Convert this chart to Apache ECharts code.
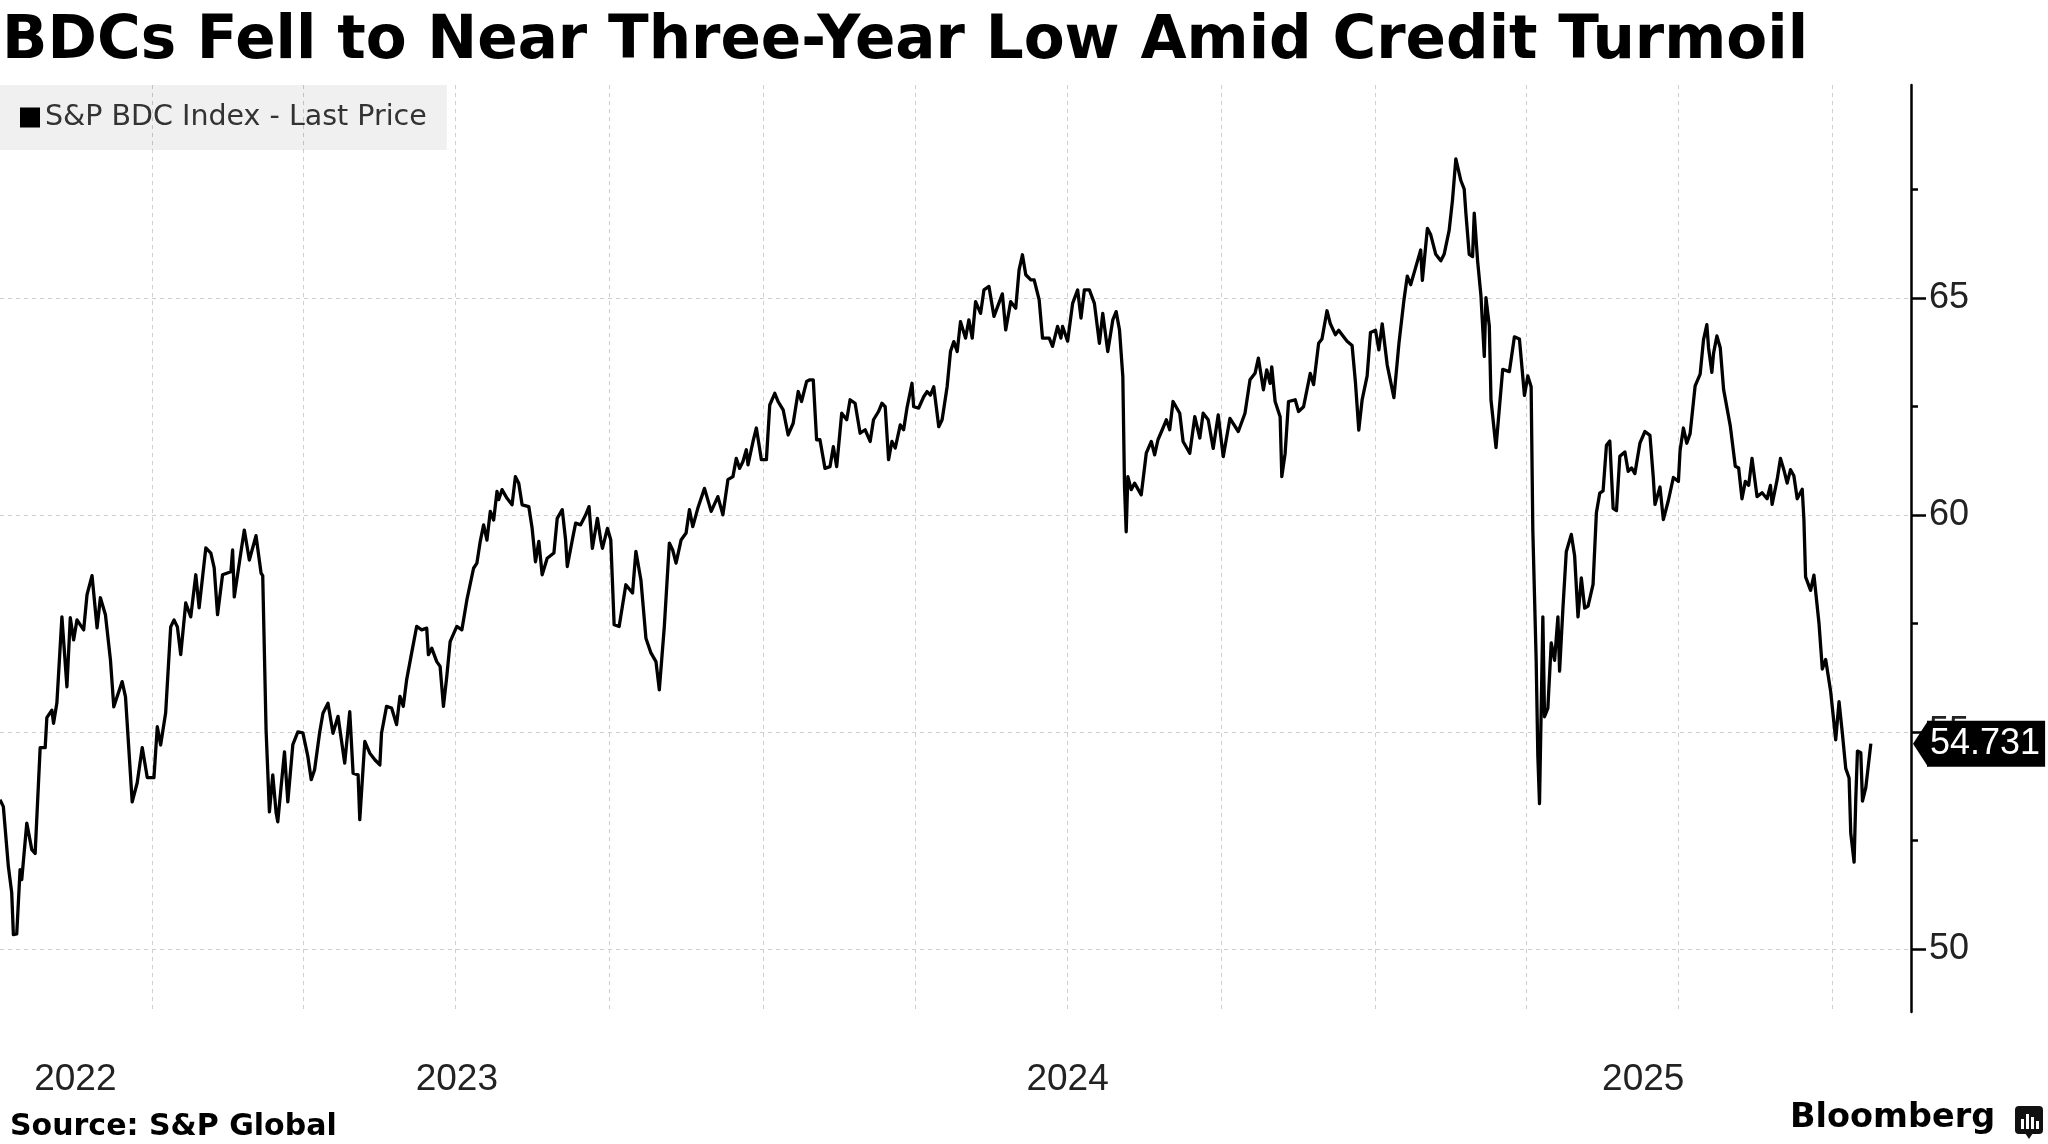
<!DOCTYPE html>
<html>
<head>
<meta charset="utf-8">
<title>BDCs Fell to Near Three-Year Low Amid Credit Turmoil</title>
<script src="https://cdn.jsdelivr.net/npm/echarts@6/dist/echarts.min.js"></script>
<style>
    html, body { margin: 0; padding: 0; background: #fff; }
    #chart { width: 2048px; height: 1144px; }
</style>
</head>
<body>
<div id="chart"></div>
<script>
var seriesName = 'S&P BDC Index - Last Price';
var DAY = 86400000;
var startDate = '2022-10-02';
var endDate = '2025-11-17';

// days counted from startDate
var days = [
    0, 2, 5, 7, 8, 10, 12, 13, 16, 19,
    21, 24, 27, 28, 31, 32, 34, 37, 40, 42,
    44, 46, 50, 52, 55, 58, 60, 63, 66, 68,
    73, 75, 79, 82, 85, 88, 92, 94, 96, 99,
    102, 104, 106, 108, 111, 114, 117, 119, 123, 126,
    128, 130, 133, 138, 139, 140, 144, 146, 149, 153,
    156, 157, 159, 161, 163, 165, 166, 168, 170, 172,
    175, 178, 181, 184, 186, 188, 191, 193, 196, 199,
    202, 206, 209, 211, 214, 215, 218, 221, 224, 227,
    228, 231, 234, 237, 239, 241, 243, 246, 249, 252,
    255, 256, 258, 261, 263, 265, 267, 269, 273, 276,
    279, 283, 285, 287, 289, 291, 293, 295, 297, 298,
    300, 303, 306, 308, 310, 312, 316, 318, 320, 322,
    324, 327, 331, 333, 336, 338, 339, 342, 344, 347,
    350, 352, 354, 357, 359, 360, 363, 365, 367, 370,
    374, 378, 380, 383, 386, 389, 392, 394, 397, 400,
    402, 404, 407, 410, 412, 414, 417, 421, 425, 429,
    432, 435, 438, 440, 442, 444, 446, 447, 450, 452,
    455, 458, 460, 463, 465, 468, 471, 474, 477, 479,
    482, 484, 486, 488, 490, 493, 496, 498, 500, 503,
    506, 508, 511, 514, 517, 520, 522, 525, 527, 529,
    531, 533, 535, 538, 540, 542, 545, 546, 549, 552,
    554, 556, 558, 561, 563, 566, 568, 570, 572, 574,
    577, 579, 581, 583, 586, 588, 591, 594, 599, 601,
    604, 607, 609, 611, 613, 616, 618, 621, 623, 627,
    629, 632, 634, 635, 638, 641, 644, 646, 648, 651,
    654, 657, 659, 662, 665, 667, 669, 671, 672, 673,
    674, 676, 678, 682, 685, 688, 690, 692, 695, 697,
    699, 701, 705, 707, 711, 714, 717, 719, 722, 725,
    728, 731, 735, 740, 744, 747, 750, 752, 755, 757,
    759, 760, 762, 765, 766, 768, 770, 774, 776, 779,
    783, 785, 788, 790, 793, 795, 798, 800, 802, 805,
    808, 810, 812, 814, 817, 819, 822, 824, 826, 829,
    833, 836, 839, 841, 843, 846, 849, 850, 853, 855,
    858, 861, 863, 866, 868, 870, 873, 875, 876, 878,
    880, 881, 883, 885, 887, 888, 890, 891, 894, 896,
    898, 902, 905, 908, 911, 913, 915, 916, 918, 919,
    920, 922, 923, 925, 927, 929, 931, 932, 934, 936,
    939, 941, 943, 945, 947, 949, 952, 954, 956, 958,
    960, 962, 964, 966, 968, 971, 973, 975, 977, 980,
    983, 986, 988, 989, 992, 994, 997, 1000, 1003, 1004,
    1006, 1008, 1010, 1013, 1016, 1018, 1020, 1021, 1023, 1024,
    1026, 1028, 1030, 1034, 1037, 1039, 1041, 1043, 1045, 1047,
    1050, 1053, 1056, 1058, 1059, 1062, 1064, 1066, 1068, 1070,
    1072, 1074, 1077, 1078, 1079, 1082, 1084, 1087, 1089, 1091,
    1094, 1097, 1099, 1101, 1103, 1105, 1106, 1108, 1109, 1110,
    1112, 1113, 1115, 1118
];
var values = [
    53.44, 53.28, 51.9, 51.3, 50.33, 50.35, 51.83, 51.6, 52.9, 52.29,
    52.2, 54.64, 54.64, 55.33, 55.5, 55.2, 55.67, 57.65, 56.04, 57.63,
    57.12, 57.58, 57.35, 58.16, 58.6, 57.4, 58.09, 57.7, 56.66, 55.58,
    56.16, 55.81, 53.39, 53.83, 54.64, 53.95, 53.95, 55.12, 54.7, 55.44,
    57.42, 57.58, 57.42, 56.78, 57.97, 57.65, 58.62, 57.86, 59.24, 59.12,
    58.78, 57.7, 58.62, 58.69, 59.19, 58.11, 59.15, 59.65, 58.96, 59.52,
    58.66, 58.6, 55.05, 53.16, 54.01, 53.14, 52.93, 53.74, 54.54, 53.39,
    54.71, 55.0, 54.98, 54.43, 53.9, 54.13, 54.98, 55.43, 55.66, 54.97,
    55.36, 54.28, 55.47, 54.05, 54.01, 52.98, 54.78, 54.51, 54.36, 54.24,
    54.97, 55.59, 55.55, 55.17, 55.82, 55.59, 56.2, 56.82, 57.43, 57.35,
    57.39, 56.78, 56.93, 56.62, 56.51, 55.59, 56.28, 57.08, 57.43, 57.35,
    58.04, 58.77, 58.89, 59.39, 59.77, 59.42, 60.08, 59.88, 60.54, 60.35,
    60.58, 60.38, 60.23, 60.88, 60.73, 60.23, 60.19, 59.69, 58.92, 59.39,
    58.62, 59.0, 59.12, 59.92, 60.12, 59.42, 58.81, 59.42, 59.81, 59.77,
    60.0, 60.19, 59.23, 59.92, 59.42, 59.23, 59.69, 59.42, 57.47, 57.43,
    58.39, 58.2, 59.16, 58.5, 57.16, 56.82, 56.62, 55.97, 57.43, 59.35,
    59.19, 58.89, 59.42, 59.58, 60.12, 59.73, 60.15, 60.61, 60.08, 60.42,
    60.0, 60.81, 60.88, 61.3, 61.07, 61.23, 61.5, 61.15, 61.69, 62.0,
    61.27, 61.27, 62.53, 62.8, 62.61, 62.42, 61.84, 62.11, 62.84, 62.61,
    63.07, 63.11, 63.11, 61.73, 61.73, 61.07, 61.11, 61.57, 61.11, 62.34,
    62.19, 62.65, 62.57, 61.88, 61.96, 61.69, 62.19, 62.38, 62.57, 62.49,
    61.27, 61.69, 61.54, 62.07, 61.96, 62.46, 63.03, 62.49, 62.46, 62.72,
    62.84, 62.76, 62.95, 62.03, 62.19, 62.95, 63.76, 63.99, 63.76, 64.45,
    64.07, 64.49, 64.07, 64.91, 64.64, 65.18, 65.26, 64.57, 65.09, 64.26,
    64.91, 64.76, 65.64, 65.99, 65.53, 65.41, 65.41, 64.95, 64.07, 64.07,
    63.88, 64.34, 64.07, 64.34, 64.0, 64.87, 65.18, 64.53, 65.18, 65.18,
    64.87, 63.95, 64.64, 63.76, 64.49, 64.68, 64.26, 63.18, 60.65, 59.61,
    60.88, 60.58, 60.73, 60.46, 61.42, 61.69, 61.38, 61.73, 62.0, 62.19,
    61.96, 62.61, 62.34, 61.69, 61.42, 62.26, 61.77, 62.34, 62.19, 61.53,
    62.3, 61.34, 62.22, 61.92, 62.34, 63.11, 63.26, 63.61, 62.88, 63.34,
    63.03, 63.41, 62.61, 62.26, 60.88, 61.42, 62.61, 62.65, 62.38, 62.49,
    63.26, 63.0, 63.95, 64.05, 64.7, 64.4, 64.15, 64.25, 64.15, 64.0,
    63.9, 63.05, 61.95, 62.65, 63.2, 64.2, 64.25, 63.8, 64.4, 63.45,
    62.7, 63.95, 64.95, 65.5, 65.3, 65.7, 66.1, 65.4, 66.6, 66.45,
    66.0, 65.85, 66.0, 66.55, 67.25, 68.2, 67.7, 67.5, 66.95, 66.0,
    65.95, 66.95, 65.85, 65.05, 63.65, 65.0, 64.35, 62.65, 61.55, 62.45,
    63.35, 63.3, 64.1, 64.05, 62.75, 63.2, 62.95, 59.65, 56.65, 54.45,
    53.35, 57.65, 55.35, 55.55, 57.05, 56.65, 57.65, 56.4, 57.85, 59.15,
    59.55, 59.05, 57.65, 58.55, 57.85, 57.9, 58.4, 60.05, 60.5, 60.55,
    61.6, 61.7, 60.15, 60.1, 61.35, 61.45, 61.0, 61.08, 60.95, 61.65,
    61.92, 61.83, 60.86, 60.24, 60.64, 59.89, 60.33, 60.86, 60.77, 61.48,
    62.0, 61.65, 61.87, 62.97, 63.24, 64.03, 64.38, 63.85, 63.28, 63.72,
    64.12, 63.85, 62.89, 62.05, 61.12, 61.08, 60.37, 60.77, 60.68, 61.3,
    60.42, 60.51, 60.37, 60.68, 60.24, 60.81, 61.3, 61.04, 60.73, 61.04,
    60.9, 60.37, 60.59, 59.89, 58.57, 58.26, 58.61, 57.51, 56.45, 56.67,
    55.93, 54.82, 55.7, 54.96, 54.16, 53.94, 52.67, 52.0, 53.46, 54.56,
    54.52, 53.41, 53.72, 54.731
];
var lastValue = 54.731;

// 季度分隔线 and year labels
var quarterStarts = [
    '2023-01-01', '2023-04-01', '2023-07-01', '2023-10-01',
    '2024-01-01', '2024-04-01', '2024-07-01', '2024-10-01',
    '2025-01-01', '2025-04-01', '2025-07-01', '2025-10-01'
];
var yearLabels = ['2022', '2023', '2024', '2025'];
var yearLabelDates = ['2022-11-16', '2023-07-02', '2024-07-01', '2025-06-10'];
var yMajorTicks = [50, 55, 60, 65];
var yMinorTicks = [52.5, 57.5, 62.5, 67.5];

function utc(s) {
    var p = s.split('-');
    return Date.UTC(+p[0], +p[1] - 1, +p[2]);
}

// date string -> days since startDate
function dayOf(s) {
    return (utc(s) - utc(startDate)) / DAY;
}

window.onload = function() {
    draw_chart();
}

function draw_chart() {
    if (days.length !== values.length) {
        console.error('days/values length mismatch', days.length, values.length);
    }
    var seriesData = [];
    for (var i = 0; i < days.length; i++) {
        seriesData.push([days[i], values[i]]);
    }
    var labelDays = yearLabelDates.map(dayOf);

    var myChart = echarts.init(document.getElementById('chart'));
    var option = {
        animation: false,
        backgroundColor: '#fff',
        title: [{
            text: 'BDCs Fell to Near Three-Year Low Amid Credit Turmoil',
            left: 2, top: 13, padding: 0,
            textStyle: { fontFamily: 'DejaVu Sans', fontWeight: 'bold', fontSize: 59.6, lineHeight: 60, color: '#000' }
        }, {
            text: 'Source: S&P Global',
            left: 10, top: 1112, padding: 0,
            textStyle: { fontFamily: 'DejaVu Sans', fontWeight: 'bold', fontSize: 30, lineHeight: 30, color: '#000' }
        }, {
            text: 'Bloomberg',
            left: 1790, top: 1101, padding: 0,
            textStyle: { fontFamily: 'DejaVu Sans', fontWeight: 'bold', fontSize: 33.5, lineHeight: 34, color: '#000' }
        }],
        legend: {
            left: 0, top: 85,
            padding: [17, 20, 17, 20],
            backgroundColor: 'rgba(0,0,0,0.06)',
            itemWidth: 20, itemHeight: 20,
            selectedMode: false,
            data: [{ name: seriesName, icon: 'rect' }],
            textStyle: { fontFamily: 'DejaVu Sans', fontSize: 28.5, lineHeight: 31, color: '#333' }
        },
        grid: { left: 0, right: 137, top: 85, bottom: 132, containLabel: false },
        xAxis: {
            type: 'value',
            min: 0,
            max: dayOf(endDate),
            axisLine: { show: false },
            axisTick: { show: false, customValues: quarterStarts.map(dayOf) },
            splitLine: { show: true, lineStyle: { color: '#cfcfcf', width: 1, type: [4, 4] } },
            axisLabel: {
                customValues: labelDays,
                margin: 49,
                fontFamily: 'Liberation Sans',
                fontSize: 37,
                color: '#222',
                formatter: function(v) {
                    for (var k = 0; k < labelDays.length; k++) {
                        if (Math.abs(labelDays[k] - v) < 0.5) return yearLabels[k];
                    }
                    return '';
                }
            }
        },
        yAxis: [{
            type: 'value',
            position: 'right',
            min: 48.55, max: 69.9,
            axisLine: { show: true, onZero: false, lineStyle: { color: '#000', width: 2.5 } },
            axisTick: { show: true, customValues: yMajorTicks, length: 15, lineStyle: { color: '#000', width: 2.5 } },
            axisLabel: { customValues: yMajorTicks, margin: 18, fontFamily: 'Liberation Sans', fontSize: 36, color: '#222' },
            splitLine: { show: true, lineStyle: { color: '#cfcfcf', width: 1, type: [4, 4] } },
            axisPointer: {
                show: true,
                type: 'line',
                value: lastValue,
                status: 'show',
                triggerTooltip: false,
                lineStyle: { opacity: 0 },
                label: {
                    show: true,
                    margin: 16,
                    formatter: function() { return lastValue.toFixed(3); },
                    backgroundColor: '#000',
                    color: '#fff',
                    fontFamily: 'Liberation Sans',
                    fontSize: 36,
                    padding: [5, 5, 5, 3],
                    borderRadius: 0
                }
            }
        }, {
            type: 'value',
            position: 'right',
            min: 48.55, max: 69.9,
            axisLine: { show: false, onZero: false },
            axisTick: { show: true, customValues: yMinorTicks, length: 7, lineStyle: { color: '#000', width: 2.5 } },
            axisLabel: { show: false },
            splitLine: { show: false }
        }],
        series: [{
            name: seriesName,
            type: 'line',
            xAxisIndex: 0,
            yAxisIndex: 0,
            showSymbol: false,
            symbol: 'none',
            itemStyle: { color: '#000' },
            lineStyle: { color: '#000', width: 3.3, join: 'round' },
            data: seriesData
        }]
    };
    myChart.setOption(option);

    // 最后一个值标签左侧的小箭头 + Bloomberg 图标
    var py = myChart.convertToPixel({ yAxisIndex: 0 }, lastValue);
    myChart.setOption({
        graphic: [{
            type: 'polygon',
            z: 100,
            shape: { points: [[1913, py], [1928, py - 23], [1928, py + 23]] },
            style: { fill: '#000' }
        }, {
            type: 'group',
            left: 2015, top: 1106,
            children: [
                { type: 'rect', shape: { x: 0, y: 0, width: 28, height: 28, r: 4 }, style: { fill: '#111' } },
                { type: 'polygon', shape: { points: [[10, 27], [18, 27], [14, 33]] }, style: { fill: '#111' } },
                { type: 'rect', shape: { x: 6, y: 13, width: 3, height: 10 }, style: { fill: '#fff' } },
                { type: 'rect', shape: { x: 11, y: 8, width: 3, height: 15 }, style: { fill: '#fff' } },
                { type: 'rect', shape: { x: 16, y: 11, width: 3, height: 12 }, style: { fill: '#fff' } },
                { type: 'rect', shape: { x: 21, y: 15, width: 3, height: 8 }, style: { fill: '#fff' } }
            ]
        }]
    });
}
</script>
</body>
</html>
